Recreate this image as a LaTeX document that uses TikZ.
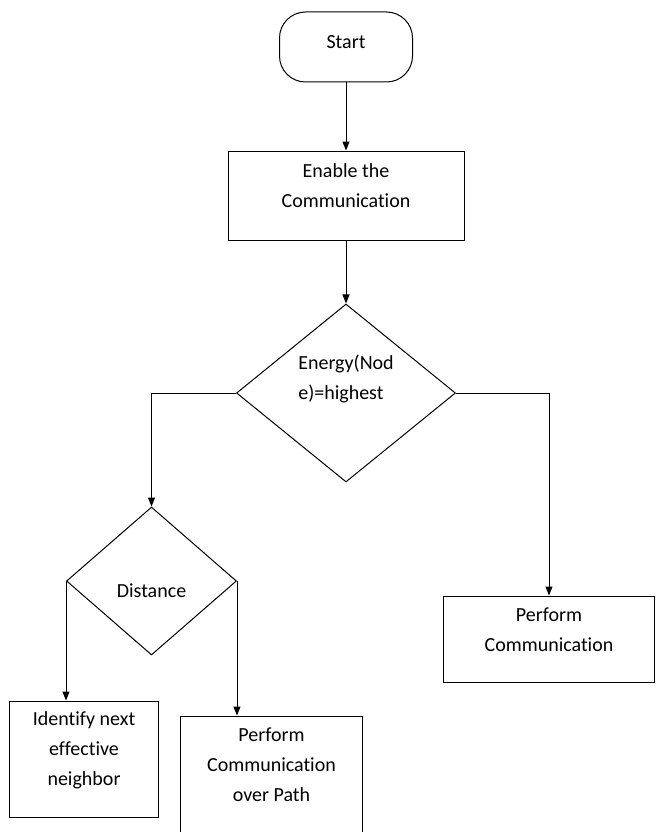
\documentclass[tikz,border=0pt]{standalone}
\usepackage{fontspec}
\setmainfont{Carlito}[Ligatures=NoCommon]
\usepackage{tikz}
\usetikzlibrary{shapes.geometric, positioning, arrows.meta}
\tikzset{
  startstop/.style={rectangle, rounded corners=26pt, minimum width=133pt, minimum height=70pt, text centered, draw=black, line width=1pt},
  process/.style={rectangle, inner sep=0pt, text centered, align=center, draw=black, line width=1pt},
  decision/.style={diamond, inner sep=0pt, text centered, draw=black, line width=1pt},
  arrow/.style={line width=1pt,->,>={Triangle[length=9pt,width=7pt]}}
}
\begin{document}
\begin{tikzpicture}[every node/.style={font=\fontsize{20}{30}\selectfont}]
        \useasboundingbox (0,0) rectangle (656pt,-832pt);
        \clip (0,0) rectangle (656pt,-832pt);
        \node (start) [startstop, text depth=10pt] at (346pt,-47pt) {Start};
        \node (enable) [process, below=68pt of start, minimum width=236pt, minimum height=89pt, text depth=20pt] {Enable the\\Communication};
        \node (energy) [decision, below=63pt of enable, minimum width=219pt, minimum height=178pt, align=left, text depth=32pt] {Energy(Nod\\e)=highest};
        \node (distance) [decision, below=24pt of energy, xshift=-194.5pt, minimum width=170pt, minimum height=148pt, text height=34pt] {Distance};
        \node (perform) [process, below=113pt of energy, xshift=203pt, minimum width=211pt, minimum height=86pt, text depth=18pt] {Perform\\Communication};
        \node (identify) [process, below=45pt of distance, xshift=-67.5pt, minimum width=149pt, minimum height=116pt, text depth=20pt] {Identify next\\effective\\neighbor};
        \node (path) [process, below=60pt of distance, xshift=120pt, minimum width=182pt, minimum height=128pt, text depth=30pt] {Perform\\Communication\\over Path};

        \draw [arrow] (start) -- (enable);
        \draw [arrow] (enable) -- (energy);
        \draw [arrow] (energy.west) -| (distance.north);
        \draw [arrow] (energy.east) -| (perform.north);
        \draw [arrow] (distance.west) -- (distance.west |- identify.north);
        \draw [arrow] (distance.east) -- (distance.east |- path.north);
    \end{tikzpicture}
\end{document}
